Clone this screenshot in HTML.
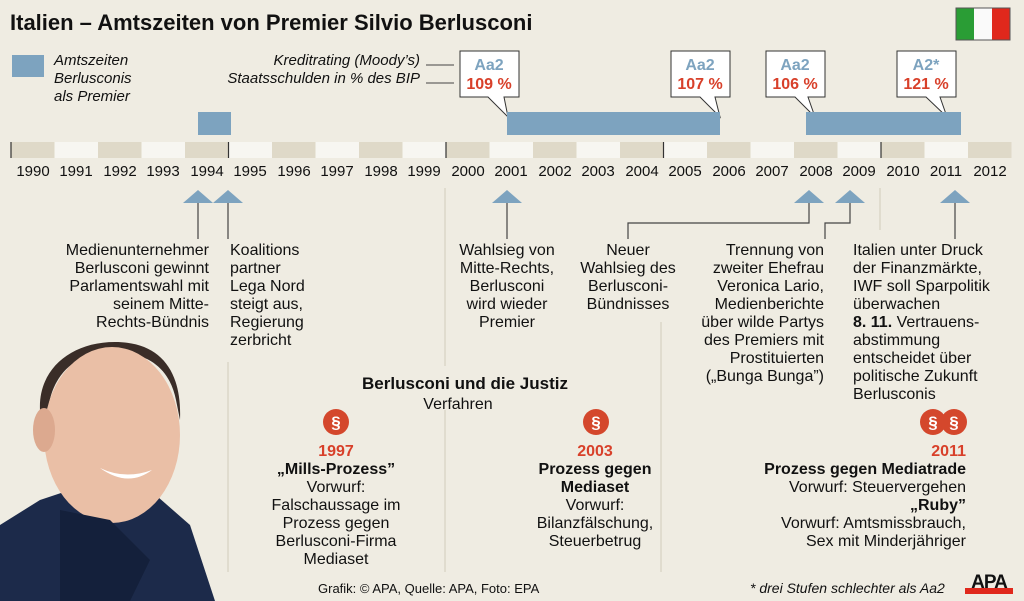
<!DOCTYPE html>
<html><head><meta charset="utf-8"><style>
html,body{margin:0;padding:0;background:#efece2;}
svg{display:block;font-family:"Liberation Sans",sans-serif;}
</style></head><body>
<svg width="1024" height="601" viewBox="0 0 1024 601" xmlns="http://www.w3.org/2000/svg">
<rect width="1024" height="601" fill="#efece2"/>
<text x="10" y="30" font-size="22" font-weight="bold" fill="#111">Italien – Amtszeiten von Premier Silvio Berlusconi</text>
<rect x="956" y="8" width="54" height="32" fill="#2a9d35" stroke="#555" stroke-width="1"/>
<rect x="974" y="8.5" width="18" height="31" fill="#fafafa"/>
<rect x="992" y="8.5" width="17.5" height="31" fill="#e0281c"/>
<rect x="12" y="55" width="32" height="22" fill="#7da3bf"/>
<g font-size="15" font-style="italic" fill="#111">
<text x="54" y="65">Amtszeiten</text><text x="54" y="83">Berlusconis</text><text x="54" y="101">als Premier</text>
<text x="420" y="65" text-anchor="end">Kreditrating (Moody’s)</text>
<text x="420" y="83" text-anchor="end">Staatsschulden in % des BIP</text>
</g>
<line x1="426" y1="65" x2="454" y2="65" stroke="#444"/><line x1="426" y1="83" x2="454" y2="83" stroke="#444"/>
<g stroke="#333" stroke-width="1" fill="#fff">
<path d="M460,51H519V97H504L508,117L488,97H460Z"/>
<path d="M671,51H730V97H715L720,117L700,97H671Z"/>
<path d="M766,51H825V97H808L815,117L795,97H766Z"/>
<path d="M897,51H956V97H940L947,117L926,97H897Z"/>
</g>
<g font-size="16" font-weight="bold" text-anchor="middle">
<g fill="#7da3bf"><text x="489" y="70">Aa2</text><text x="700" y="70">Aa2</text><text x="795" y="70">Aa2</text><text x="926" y="70">A2*</text></g>
<g fill="#d8402a"><text x="489" y="89">109 %</text><text x="700" y="89">107 %</text><text x="795" y="89">106 %</text><text x="926" y="89">121 %</text></g>
</g>
<g fill="#7da3bf"><rect x="198" y="112" width="33" height="23"/><rect x="507" y="112" width="213" height="23"/><rect x="806" y="112" width="155" height="23"/></g>
<g>
<rect x="11" y="142" width="43.5" height="16" fill="#dfd9c8"/><rect x="54.5" y="142" width="43.5" height="16" fill="#f7f6f1"/>
<rect x="98" y="142" width="43.5" height="16" fill="#dfd9c8"/><rect x="141.5" y="142" width="43.5" height="16" fill="#f7f6f1"/>
<rect x="185" y="142" width="43.5" height="16" fill="#dfd9c8"/><rect x="228.5" y="142" width="43.5" height="16" fill="#f7f6f1"/>
<rect x="272" y="142" width="43.5" height="16" fill="#dfd9c8"/><rect x="315.5" y="142" width="43.5" height="16" fill="#f7f6f1"/>
<rect x="359" y="142" width="43.5" height="16" fill="#dfd9c8"/><rect x="402.5" y="142" width="43.5" height="16" fill="#f7f6f1"/>
<rect x="446" y="142" width="43.5" height="16" fill="#dfd9c8"/><rect x="489.5" y="142" width="43.5" height="16" fill="#f7f6f1"/>
<rect x="533" y="142" width="43.5" height="16" fill="#dfd9c8"/><rect x="576.5" y="142" width="43.5" height="16" fill="#f7f6f1"/>
<rect x="620" y="142" width="43.5" height="16" fill="#dfd9c8"/><rect x="663.5" y="142" width="43.5" height="16" fill="#f7f6f1"/>
<rect x="707" y="142" width="43.5" height="16" fill="#dfd9c8"/><rect x="750.5" y="142" width="43.5" height="16" fill="#f7f6f1"/>
<rect x="794" y="142" width="43.5" height="16" fill="#dfd9c8"/><rect x="837.5" y="142" width="43.5" height="16" fill="#f7f6f1"/>
<rect x="881" y="142" width="43.5" height="16" fill="#dfd9c8"/><rect x="924.5" y="142" width="43.5" height="16" fill="#f7f6f1"/>
<rect x="968" y="142" width="43.5" height="16" fill="#dfd9c8"/>
</g>
<g stroke="#333" stroke-width="1.2"><line x1="11" y1="142" x2="11" y2="158"/><line x1="228.5" y1="142" x2="228.5" y2="158"/><line x1="446" y1="142" x2="446" y2="158"/><line x1="663.5" y1="142" x2="663.5" y2="158"/><line x1="881" y1="142" x2="881" y2="158"/></g>
<g font-size="15" fill="#111" text-anchor="middle">
<text x="33" y="176">1990</text><text x="76" y="176">1991</text><text x="120" y="176">1992</text><text x="163" y="176">1993</text><text x="207" y="176">1994</text><text x="250" y="176">1995</text><text x="294" y="176">1996</text><text x="337" y="176">1997</text><text x="381" y="176">1998</text><text x="424" y="176">1999</text><text x="468" y="176">2000</text><text x="511" y="176">2001</text><text x="555" y="176">2002</text><text x="598" y="176">2003</text><text x="642" y="176">2004</text><text x="685" y="176">2005</text><text x="729" y="176">2006</text><text x="772" y="176">2007</text><text x="816" y="176">2008</text><text x="859" y="176">2009</text><text x="903" y="176">2010</text><text x="946" y="176">2011</text><text x="990" y="176">2012</text>
</g>
<g stroke="#d6d1c2" stroke-width="1.2">
<line x1="445" y1="188" x2="445" y2="366"/><line x1="445" y1="410" x2="445" y2="572"/>
<line x1="880" y1="188" x2="880" y2="230"/>
<line x1="228" y1="362" x2="228" y2="572"/><line x1="661" y1="322" x2="661" y2="572"/>
</g>
<g fill="#7da3bf">
<path d="M183,203L198,190L213,203Z"/><path d="M213,203L228,190L243,203Z"/><path d="M492,203L507,190L522,203Z"/>
<path d="M794,203L809,190L824,203Z"/><path d="M835,203L850,190L865,203Z"/><path d="M940,203L955,190L970,203Z"/>
</g>
<g stroke="#444" stroke-width="1.2" fill="none">
<path d="M198,203V239"/><path d="M228,203V239"/><path d="M507,203V239"/><path d="M955,203V239"/>
<path d="M809,203V223H628V239"/><path d="M850,203V223H825V239"/>
</g>
<g font-size="16" fill="#111">
<g text-anchor="end"><text x="209" y="255">Medienunternehmer</text><text x="209" y="273">Berlusconi gewinnt</text><text x="209" y="291">Parlamentswahl mit</text><text x="209" y="309">seinem Mitte-</text><text x="209" y="327">Rechts-Bündnis</text></g>
<text x="230" y="255">Koalitions</text><text x="230" y="273">partner</text><text x="230" y="291">Lega Nord</text><text x="230" y="309">steigt aus,</text><text x="230" y="327">Regierung</text><text x="230" y="345">zerbricht</text>
<g text-anchor="middle"><text x="507" y="255">Wahlsieg von</text><text x="507" y="273">Mitte-Rechts,</text><text x="507" y="291">Berlusconi</text><text x="507" y="309">wird wieder</text><text x="507" y="327">Premier</text>
<text x="628" y="255">Neuer</text><text x="628" y="273">Wahlsieg des</text><text x="628" y="291">Berlusconi-</text><text x="628" y="309">Bündnisses</text></g>
<g text-anchor="end"><text x="824" y="255">Trennung von</text><text x="824" y="273">zweiter Ehefrau</text><text x="824" y="291">Veronica Lario,</text><text x="824" y="309">Medienberichte</text><text x="824" y="327">über wilde Partys</text><text x="824" y="345">des Premiers mit</text><text x="824" y="363">Prostituierten</text><text x="824" y="381">(„Bunga Bunga”)</text></g>
<text x="853" y="255">Italien unter Druck</text><text x="853" y="273">der Finanzmärkte,</text><text x="853" y="291">IWF soll Sparpolitik</text><text x="853" y="309">überwachen</text><text x="853" y="327"><tspan font-weight="bold">8. 11.</tspan> Vertrauens-</text><text x="853" y="345">abstimmung</text><text x="853" y="363">entscheidet über</text><text x="853" y="381">politische Zukunft</text><text x="853" y="399">Berlusconis</text>
<text x="465" y="389" text-anchor="middle" font-weight="bold" font-size="17">Berlusconi und die Justiz</text>
<text x="458" y="409" text-anchor="middle">Verfahren</text>
<g text-anchor="middle">
<text x="336" y="456" fill="#d8402a" font-weight="bold">1997</text><text x="336" y="474" font-weight="bold">„Mills-Prozess”</text><text x="336" y="492">Vorwurf:</text><text x="336" y="510">Falschaussage im</text><text x="336" y="528">Prozess gegen</text><text x="336" y="546">Berlusconi-Firma</text><text x="336" y="564">Mediaset</text>
<text x="595" y="456" fill="#d8402a" font-weight="bold">2003</text><text x="595" y="474" font-weight="bold">Prozess gegen</text><text x="595" y="492" font-weight="bold">Mediaset</text><text x="595" y="510">Vorwurf:</text><text x="595" y="528">Bilanzfälschung,</text><text x="595" y="546">Steuerbetrug</text>
</g>
<g text-anchor="end">
<text x="966" y="456" fill="#d8402a" font-weight="bold">2011</text><text x="966" y="474" font-weight="bold">Prozess gegen Mediatrade</text><text x="966" y="492">Vorwurf: Steuervergehen</text><text x="966" y="510" font-weight="bold">„Ruby”</text><text x="966" y="528">Vorwurf: Amtsmissbrauch,</text><text x="966" y="546">Sex mit Minderjähriger</text>
</g>
</g>
<g fill="#d4472c"><circle cx="336" cy="422" r="13"/><circle cx="596" cy="422" r="13"/><circle cx="933" cy="422" r="13"/><circle cx="954" cy="422" r="13"/></g>
<g fill="#fff" font-size="17" font-weight="bold" text-anchor="middle"><text x="336" y="428">§</text><text x="596" y="428">§</text><text x="933" y="428">§</text><text x="954" y="428">§</text></g>
<text x="318" y="593" font-size="13" fill="#111">Grafik: © APA, Quelle: APA, Foto: EPA</text>
<text x="750" y="593" font-size="14" font-style="italic" fill="#111">* drei Stufen schlechter als Aa2</text>
<text x="989" y="588" font-size="19" font-weight="bold" text-anchor="middle" fill="#111" letter-spacing="-1">APA</text>
<rect x="965" y="588" width="48" height="6" fill="#e0281c"/>
<!-- photo -->
<g>
<path d="M0,525 L40,500 L85,485 L150,490 L190,525 L215,601 L0,601Z" fill="#1c2a4a"/>
<path d="M40,410 C38,370 70,342 115,342 C160,342 182,370 180,420 L176,400 C170,370 150,352 112,352 C75,352 52,375 48,410Z" fill="#3a2d28"/>
<ellipse cx="112" cy="435" rx="68" ry="88" fill="#eabfa6"/>
<ellipse cx="44" cy="430" rx="11" ry="22" fill="#dca98f"/>
<path d="M100,468 Q125,480 152,470 Q128,488 100,468Z" fill="#fff"/>
<path d="M60,510 L110,520 L150,560 L130,601 L60,601Z" fill="#14203b"/>
</g>
</svg>
</body></html>
